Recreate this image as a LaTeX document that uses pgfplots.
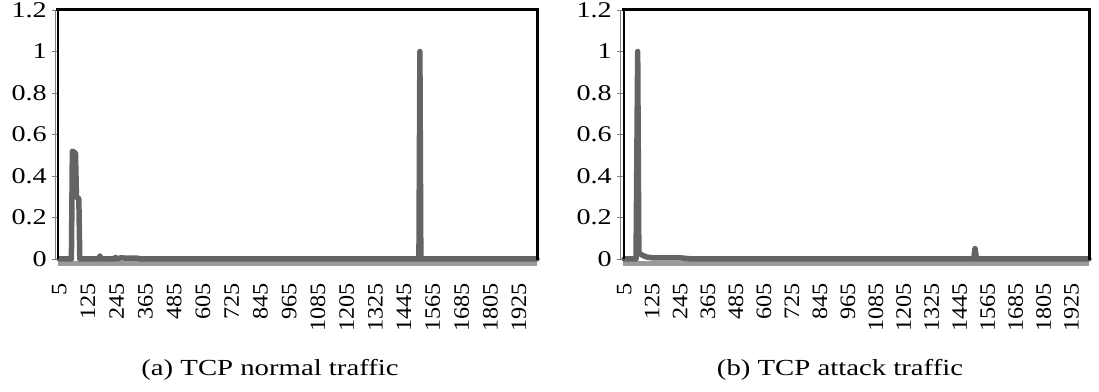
\documentclass[border=0pt]{standalone}
\usepackage{fontspec}
\setmainfont{Liberation Serif}[FakeStretch=1.25]
\newfontfamily\tickfont{Liberation Serif}[FakeStretch=1.1]
\usepackage{pgfplots}
\pgfplotsset{compat=1.18}
\definecolor{lineg}{HTML}{646464}
\definecolor{bandg}{HTML}{9A9A9A}

\pgfplotsset{
  tcpstyle/.style={
    scale only axis,
    width=479bp, height=249bp,
    xmin=0, xmax=2000, ymin=0, ymax=1.2,
    clip=false,
    axis line style={draw=none},
    ytick={0,0.2,0.4,0.6,0.8,1,1.2},
    yticklabels={0,0.2,0.4,0.6,0.8,1,1.2},
    xtick={5,125,245,365,485,605,725,845,965,1085,1205,1325,1445,1565,1685,1805,1925},
    xticklabels={5,125,245,365,485,605,725,845,965,1085,1205,1325,1445,1565,1685,1805,1925},
    tick align=outside,
    ytick pos=left,
    major tick length=6bp,
    ytick style={gray, line width=0.8bp},
    xtick style={draw=none},
    yticklabel style={font=\fontsize{22.5bp}{26bp}\selectfont, anchor=east, inner sep=0pt, xshift=-5bp},
    xticklabel style={font=\tickfont\fontsize{22bp}{26bp}\selectfont, yshift=-18bp, rotate=90, anchor=east, inner sep=0pt},
  },
  tcpline/.style={lineg, line width=5.5bp, line join=round, line cap=round, mark=none},
}

\begin{document}
\begin{tikzpicture}
\path (0,0) rectangle (1099bp,392bp);

% (a) TCP normal traffic
\begin{axis}[tcpstyle, at={(58bp,133bp)}, anchor=south west]
\draw[bandg, line width=5bp] ([yshift=-5bp]rel axis cs:0,0) -- ([yshift=-5bp]rel axis cs:1,0);
\addplot[tcpline] coordinates {
(5,0) (56,0) (60,0.52) (73,0.51) (77,0.30) (87,0.29) (91,0) (170,0) (175,0.015) (180,0)
(235,0) (240,0.008) (245,0) (260,0.005) (330,0.004) (345,0)
(1507,0) (1511,1.0) (1515,0) (2000,0)
};
\draw[gray, line width=1bp] ([xshift=-2.5bp]rel axis cs:0,0) -- ([xshift=-2.5bp]rel axis cs:0,1);
\draw[black, line width=2bp] ([xshift=0.5bp]rel axis cs:0,0) -- ([xshift=0.5bp]rel axis cs:0,1);
\draw[black, line width=3bp, line cap=rect] (rel axis cs:0,1) -- (rel axis cs:1,1) -- (rel axis cs:1,0);
\end{axis}

% (b) TCP attack traffic
\begin{axis}[tcpstyle, width=466bp, at={(623bp,133bp)}, anchor=south west]
\draw[bandg, line width=5bp] ([yshift=-5bp]rel axis cs:0,0) -- ([yshift=-5bp]rel axis cs:1,0);
\addplot[tcpline] coordinates {
(5,0) (56,0) (63,1.0) (68,0.03) (80,0.02) (100,0.01) (130,0.005) (250,0.005) (300,0)
(1505,0) (1511,0.05) (1517,0) (2000,0)
};
\draw[gray, line width=1bp] ([xshift=-2.5bp]rel axis cs:0,0) -- ([xshift=-2.5bp]rel axis cs:0,1);
\draw[black, line width=2bp] ([xshift=0.5bp]rel axis cs:0,0) -- ([xshift=0.5bp]rel axis cs:0,1);
\draw[black, line width=3bp, line cap=rect] (rel axis cs:0,1) -- (rel axis cs:1,1) -- (rel axis cs:1,0);
\end{axis}

\node[font=\fontsize{23bp}{27bp}\selectfont] at (270bp,22bp) {(a) TCP normal traffic};
\node[font=\fontsize{23bp}{27bp}\selectfont] at (840bp,22bp) {(b) TCP attack traffic};
\end{tikzpicture}
\end{document}
